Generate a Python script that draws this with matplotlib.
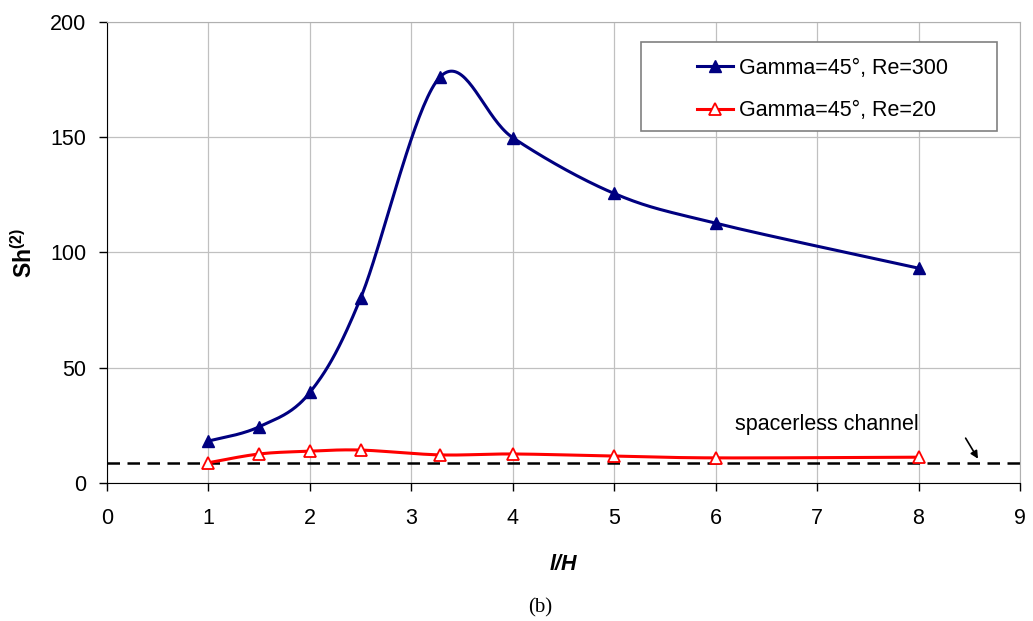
import numpy as np
import matplotlib
matplotlib.use("Agg")
import matplotlib.pyplot as plt
from matplotlib.patches import Rectangle

plt.rcParams['font.family'] = ['Liberation Sans', 'DejaVu Sans']
plt.rcParams['mathtext.fontset'] = 'custom'
plt.rcParams['mathtext.rm'] = 'Liberation Sans'
plt.rcParams['mathtext.bf'] = 'Liberation Sans:bold'

# data
lh = [1, 1.5, 2, 2.5, 3.28, 4, 5, 6, 8]
sh_re300 = [18.2, 24.4, 39.3, 80.2, 176.0, 149.8, 125.6, 112.7, 93.2]
sh_re20 = [8.8, 12.6, 13.8, 14.3, 12.2, 12.6, 11.7, 10.9, 11.2]
spacerless = 8.8


def smooth(x, y, n=40):
    # excel style smoothed line: bezier segments through the points
    x = np.asarray(x, float)
    y = np.asarray(y, float)
    px = np.concatenate([[x[0]], x, [x[-1]]])
    py = np.concatenate([[y[0]], y, [y[-1]]])
    t = np.linspace(0, 1, n)[:, None]
    xs, ys = [], []
    for i in range(1, len(px) - 2):
        p0 = np.array([px[i], py[i]])
        p3 = np.array([px[i + 1], py[i + 1]])
        c1 = p0 + (np.array([px[i + 1], py[i + 1]]) - np.array([px[i - 1], py[i - 1]])) / 6
        c2 = p3 - (np.array([px[i + 2], py[i + 2]]) - np.array([px[i], py[i]])) / 6
        b = (1 - t) ** 3 * p0 + 3 * (1 - t) ** 2 * t * c1 + 3 * (1 - t) * t ** 2 * c2 + t ** 3 * p3
        xs.append(b[:, 0])
        ys.append(b[:, 1])
    return np.concatenate(xs), np.concatenate(ys)


fig = plt.figure(figsize=(10.33, 6.21), dpi=100)
ax = fig.add_axes([0.1036, 0.2222, 0.8838, 0.7424])

navy = '#000080'
red = '#ff0000'
fs = 15.5

ax.axhline(spacerless, color='black', lw=1.8, ls=(0, (5, 3)), zorder=2)

sx, sy = smooth(lh, sh_re300)
ax.plot(sx, sy, color=navy, lw=2.2, zorder=3)
ax.plot(lh, sh_re300, ls='none', marker='^', ms=9, color=navy, zorder=4)
ax.plot([], [], color=navy, lw=2.2, marker='^', ms=9, label='Gamma=45°, Re=300')

rx, ry = smooth(lh, sh_re20)
ax.plot(rx, ry, color=red, lw=2.2, zorder=3)
ax.plot(lh, sh_re20, ls='none', marker='^', ms=9, mfc='white', mec=red, mew=1.3, zorder=4)
ax.plot([], [], color=red, lw=2.2, marker='^', ms=9, mfc='white', mec=red, mew=1.3,
        label='Gamma=45°, Re=20')

ax.set_xlim(0, 9)
ax.set_ylim(0, 200)
ax.set_xticks(range(0, 10))
ax.set_yticks(range(0, 201, 50))
ax.grid(True, color='#c0c0c0', lw=0.9)
ax.set_axisbelow(True)
ax.tick_params(direction='out', length=6, width=1, labelsize=fs, colors='black')
ax.tick_params(axis='x', pad=12)
ax.tick_params(axis='y', pad=9)
ax.spines['left'].set_color('black')
ax.spines['bottom'].set_color('black')
ax.spines['top'].set_color('#b0b0b0')
ax.spines['right'].set_color('#b0b0b0')

ax.set_xlabel('l/H', fontsize=fs, fontweight='bold', fontstyle='italic', labelpad=18)
ax.set_ylabel(r'$\mathbf{Sh^{(2)}}$', fontsize=fs + 1, labelpad=9)

ax.text(7.1, 25.5, 'spacerless channel', ha='center', va='center', fontsize=fs)
ax.annotate('', xy=(8.6, 9.5), xytext=(8.45, 20.5),
            arrowprops=dict(arrowstyle='-|>', color='black', lw=1.2, mutation_scale=11))

# legend box
ax.add_patch(Rectangle((0.585, 0.7636), 0.39, 0.193, transform=ax.transAxes,
                       facecolor='white', edgecolor='#808080', lw=1.2, zorder=5))
ax.legend(loc='center left', bbox_to_anchor=(0.646, 0.854), fontsize=fs,
          frameon=False, handlelength=1.7, labelspacing=1.0, borderpad=0,
          handletextpad=0.25, borderaxespad=0).set_zorder(6)

fig.text(0.523, 0.021, '(b)', ha='center', va='center', fontsize=15, family='Liberation Serif')

fig.savefig('out.png', dpi=100)
